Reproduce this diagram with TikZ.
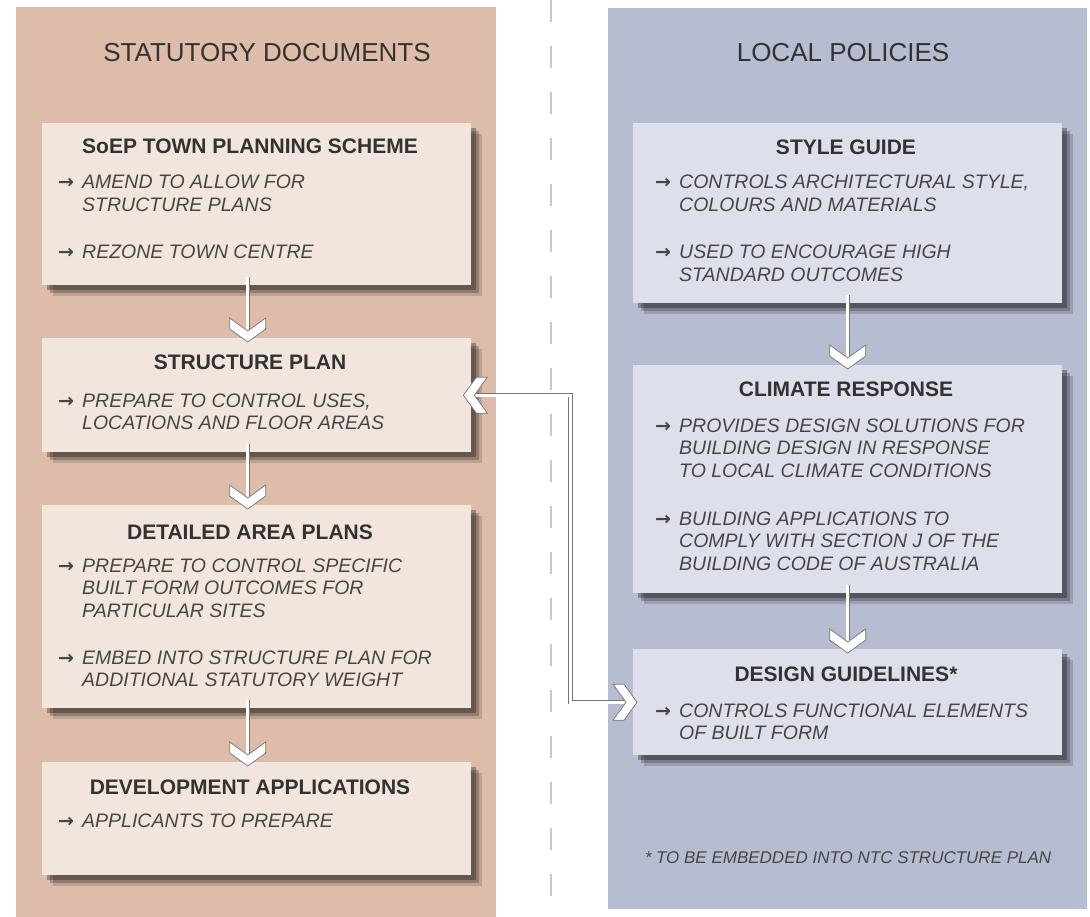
\documentclass[tikz,border=0pt]{standalone}
\usepackage{fontspec}
\setmainfont{Liberation Sans}
\newfontfamily\arrowfont{DejaVu Sans}
\usetikzlibrary{shadows}

\definecolor{panelL}{RGB}{221,189,170}
\definecolor{panelR}{RGB}{182,189,208}
\definecolor{boxL}{RGB}{242,229,221}
\definecolor{boxR}{RGB}{221,224,234}
\definecolor{inkgrey}{RGB}{50,50,50}
\definecolor{linkgrey}{RGB}{115,115,120}

% arrow bullet with hanging lines
\newcommand\bul[1]{\makebox[24pt][l]{\arrowfont\bfseries\fontsize{19}{19}\selectfont →}\begin{tabular}[t]{@{}l@{}}#1\end{tabular}}

\tikzset{
  box/.style={anchor=north west, inner sep=0pt, minimum width=429pt,
    drop shadow={shadow xshift=11pt,shadow yshift=-11pt,opacity=.15,fill=black},
    drop shadow={shadow xshift=8pt,shadow yshift=-8pt,opacity=.22,fill=black},
    drop shadow={shadow xshift=5pt,shadow yshift=-5pt,opacity=.3,fill=black}},
  paneltitle/.style={anchor=base, inner sep=0pt, text=inkgrey, font=\fontsize{26}{30}\selectfont},
  boxtitle/.style={anchor=base, inner sep=0pt, text=inkgrey, font=\fontsize{21}{25}\selectfont\bfseries},
  bullet/.style={anchor=base west, inner sep=0pt, text=inkgrey!90, font=\fontsize{19.5}{22.5}\selectfont\itshape},
  note/.style={anchor=base, inner sep=0pt, text=inkgrey!90, font=\fontsize{17}{19}\selectfont\itshape},
  link/.style={draw=linkgrey, line width=0.7pt, double=white, double distance=3pt},
  chev/.pic={\filldraw[fill=white, draw=linkgrey, line width=0.7pt] (0,0) -- (-13,18) -- (-24,18) -- (-11,0) -- (-24,-18) -- (-13,-18) -- cycle;}
}

\begin{document}
\begin{tikzpicture}[x=1pt,y=-1pt]
\useasboundingbox (0,0) rectangle (1090,917);

%Shape: Rectangle [panels]
\fill[panelL] (16,7) rectangle (496,917);
\fill[panelR] (608,8) rectangle (1087,909);
%Straight Lines [divider]
\draw[black!22, line width=2.5pt, dash pattern=on 22pt off 24pt] (551,0) -- (551,917);

% Text Node
\node[paneltitle] (titleL) at (267,62) {STATUTORY DOCUMENTS};
% Text Node
\node[paneltitle] (titleR) at (843,62) {LOCAL POLICIES};

%Shape: Rectangle [statutory boxes]
\node[box, fill=boxL, minimum height=162pt] (scheme) at (42,123) {};
\node[box, fill=boxL, minimum height=114pt] (strplan) at (42,338) {};
\node[box, fill=boxL, minimum height=203pt] (areaplans) at (42,505) {};
\node[box, fill=boxL, minimum height=113pt] (devapps) at (42,762) {};
%Shape: Rectangle [policy boxes]
\node[box, fill=boxR, minimum height=180pt] (style) at (633,123) {};
\node[box, fill=boxR, minimum height=228pt] (climate) at (633,365) {};
\node[box, fill=boxR, minimum height=106pt] (design) at (633,649) {};

%Straight Lines [down arrows]
\draw[link] ([xshift=-9pt,yshift=8pt]scheme.south) -- ([xshift=-9pt,yshift=5pt]strplan.north);
\pic[rotate=-90] at ([xshift=-9pt,yshift=-4pt]strplan.north) {chev};
\draw[link] ([xshift=-9pt,yshift=8pt]strplan.south) -- ([xshift=-9pt,yshift=5pt]areaplans.north);
\pic[rotate=-90] at ([xshift=-9pt,yshift=-4pt]areaplans.north) {chev};
\draw[link] ([xshift=-9pt,yshift=8pt]areaplans.south) -- ([xshift=-9pt,yshift=5pt]devapps.north);
\pic[rotate=-90] at ([xshift=-9pt,yshift=-4pt]devapps.north) {chev};
\draw[link] ([yshift=8pt]style.south) -- ([yshift=5pt]climate.north);
\pic[rotate=-90] at ([yshift=-4pt]climate.north) {chev};
\draw[link] ([yshift=8pt]climate.south) -- ([yshift=5pt]design.north);
\pic[rotate=-90] at ([yshift=-4pt]design.north) {chev};

%Straight Lines [two-way link]
\draw[link] (strplan.east) -- ++(99,0) |- ([xshift=-4pt]design.west);
\pic[rotate=180] at ([xshift=-8pt]strplan.east) {chev};
\pic at ([xshift=4pt]design.west) {chev};

% Text Node
\node[boxtitle] (tscheme) at (250,154) {SoEP TOWN PLANNING SCHEME};
\node[bullet] (bscheme1) at (58,189) {\bul{AMEND TO ALLOW FOR\\STRUCTURE PLANS}};
\node[bullet] (bscheme2) at (58,259) {\bul{REZONE TOWN CENTRE}};
% Text Node
\node[boxtitle] (tstrplan) at (250,370) {STRUCTURE PLAN};
\node[bullet] (bstrplan) at (58,407) {\bul{PREPARE TO CONTROL USES,\\LOCATIONS AND FLOOR AREAS}};
% Text Node
\node[boxtitle] (tareaplans) at (250,539) {DETAILED AREA PLANS};
\node[bullet] (bareaplans1) at (58,572) {\bul{PREPARE TO CONTROL SPECIFIC\\BUILT FORM OUTCOMES FOR\\PARTICULAR SITES}};
\node[bullet] (bareaplans2) at (58,664) {\bul{EMBED INTO STRUCTURE PLAN FOR\\ADDITIONAL STATUTORY WEIGHT}};
% Text Node
\node[boxtitle] (tdevapps) at (250,794) {DEVELOPMENT APPLICATIONS};
\node[bullet] (bdevapps) at (58,827) {\bul{APPLICANTS TO PREPARE}};

% Text Node
\node[boxtitle] (tstyle) at (846,155) {STYLE GUIDE};
\node[bullet] (bstyle1) at (655,189) {\bul{CONTROLS ARCHITECTURAL STYLE,\\COLOURS AND MATERIALS}};
\node[bullet] (bstyle2) at (655,259) {\bul{USED TO ENCOURAGE HIGH\\STANDARD OUTCOMES}};
% Text Node
\node[boxtitle] (tclimate) at (846,396) {CLIMATE RESPONSE};
\node[bullet] (bclimate1) at (655,432) {\bul{PROVIDES DESIGN SOLUTIONS FOR\\BUILDING DESIGN IN RESPONSE\\TO LOCAL CLIMATE CONDITIONS}};
\node[bullet] (bclimate2) at (655,525) {\bul{BUILDING APPLICATIONS TO\\COMPLY WITH SECTION J OF THE\\BUILDING CODE OF AUSTRALIA}};
% Text Node
\node[boxtitle] (tdesign) at (846,681) {DESIGN GUIDELINES*};
\node[bullet] (bdesign) at (655,717) {\bul{CONTROLS FUNCTIONAL ELEMENTS\\OF BUILT FORM}};

% Text Node
\node[note] (footnote) at (848,863) {* TO BE EMBEDDED INTO NTC STRUCTURE PLAN};
\end{tikzpicture}
\end{document}
